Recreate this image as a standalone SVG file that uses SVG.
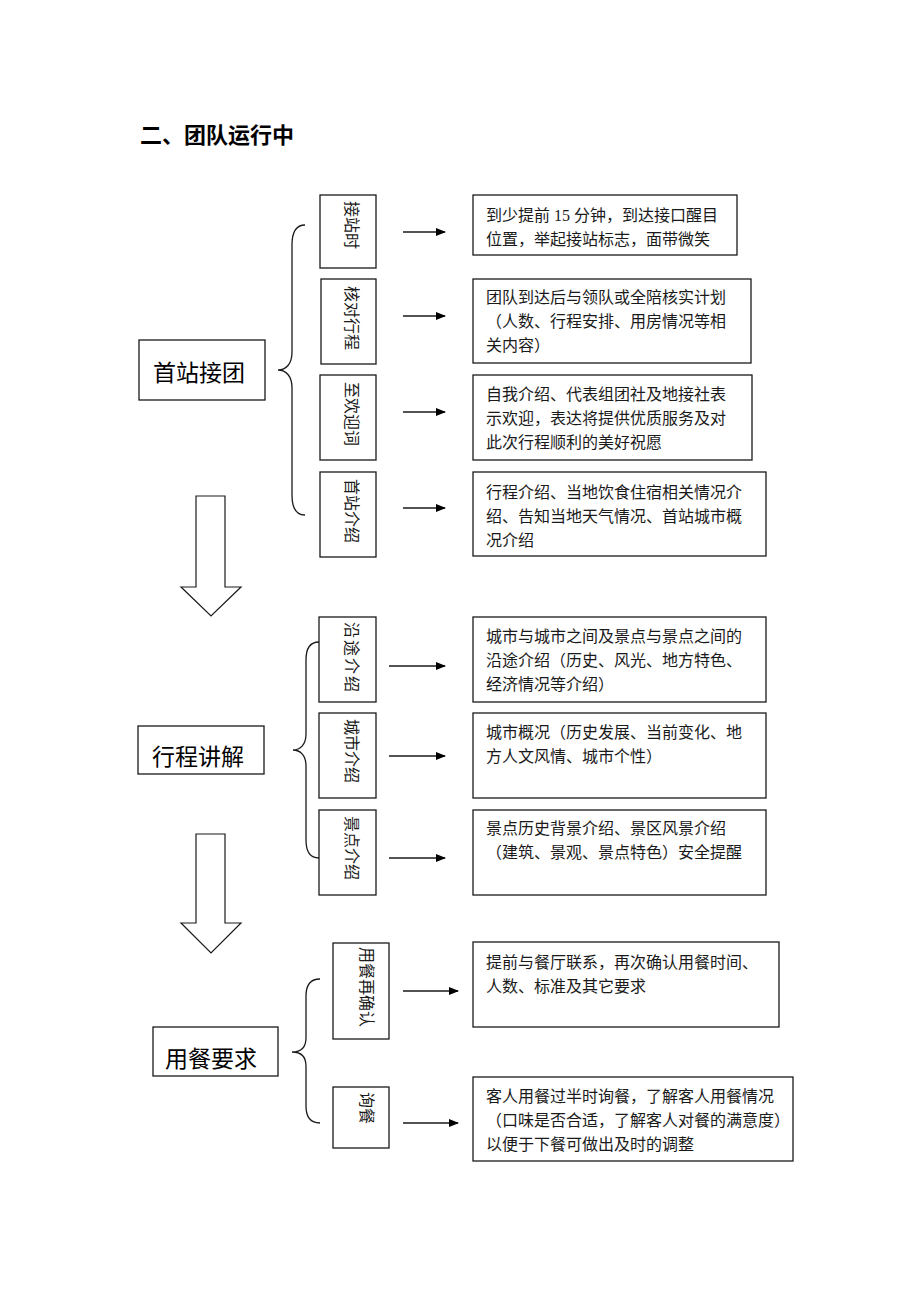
<svg xmlns="http://www.w3.org/2000/svg" width="920" height="1302" viewBox="0 0 920 1302">
<style>
.bx{fill:#fff;stroke:#1a1a1a;stroke-width:1.3}
.t{font-family:"Liberation Serif","Noto Sans CJK SC",serif;font-size:16px;fill:#1a1a1a}
.v{font-family:"Noto Sans CJK SC",sans-serif;font-size:16px;fill:#1a1a1a}
.h{font-family:"Noto Sans CJK SC",sans-serif;font-size:23px;fill:#000}
.ttl{font-family:"Noto Sans CJK SC",sans-serif;font-size:22px;font-weight:bold;fill:#000}
.ln{fill:none;stroke:#1a1a1a;stroke-width:1.3}
.br{fill:none;stroke:#1a1a1a;stroke-width:1.3}
.da{fill:#fff;stroke:#1a1a1a;stroke-width:1.2}
</style>
<defs>
<marker id="ah" markerWidth="10" markerHeight="8" refX="9" refY="4" orient="auto" markerUnits="userSpaceOnUse">
<path d="M0,0 L10,4 L0,8 Z" fill="#000"/>
</marker>
</defs>
<rect width="920" height="1302" fill="#fff"/>
<text class="ttl" x="140" y="143">二、团队运行中</text>

<g id="sec1">
<g id="n-shouzhan"><rect class="bx" x="139" y="340" width="126" height="60"/><text class="h" x="153" y="381">首站接团</text></g>
<g id="n-jiezhan"><rect class="bx" x="320" y="195" width="56" height="73"/><text class="v" transform="translate(346,201) rotate(90)">接站时</text></g>
<g id="n-hedui"><rect class="bx" x="321" y="279" width="55" height="85"/><text class="v" transform="translate(346,286) rotate(90)">核对行程</text></g>
<g id="n-zhihuan"><rect class="bx" x="320" y="375" width="56" height="85"/><text class="v" transform="translate(346,382) rotate(90)">至欢迎词</text></g>
<g id="n-szjs"><rect class="bx" x="320" y="472" width="56" height="85"/><text class="v" transform="translate(346,479) rotate(90)">首站介绍</text></g>
<g id="d-1"><rect class="bx" x="473" y="195" width="264" height="60"/><text class="t" x="486" y="221">到少提前 15 分钟，到达接口醒目</text><text class="t" x="486" y="245">位置，举起接站标志，面带微笑</text></g>
<g id="d-2"><rect class="bx" x="473" y="279" width="278" height="84"/><text class="t" x="486" y="303">团队到达后与领队或全陪核实计划</text><text class="t" x="486" y="327">（人数、行程安排、用房情况等相</text><text class="t" x="486" y="351">关内容）</text></g>
<g id="d-3"><rect class="bx" x="473" y="375" width="279" height="85"/><text class="t" x="486" y="400">自我介绍、代表组团社及地接社表</text><text class="t" x="486" y="424">示欢迎，表达将提供优质服务及对</text><text class="t" x="486" y="448">此次行程顺利的美好祝愿</text></g>
<g id="d-4"><rect class="bx" x="473" y="472" width="293" height="84"/><text class="t" x="486" y="498">行程介绍、当地饮食住宿相关情况介</text><text class="t" x="486" y="522">绍、告知当地天气情况、首站城市概</text><text class="t" x="486" y="546">况介绍</text></g>
</g>

<g id="sec2">
<g id="n-xingcheng"><rect class="bx" x="138" y="726" width="126" height="48"/><text class="h" x="152" y="765">行程讲解</text></g>
<g id="n-yantu"><rect class="bx" x="319" y="617" width="57" height="85"/><text class="v" transform="translate(346,622) rotate(90)" letter-spacing="2">沿途介绍</text></g>
<g id="n-chengshi"><rect class="bx" x="319" y="713" width="57" height="85"/><text class="v" transform="translate(346,719) rotate(90)">城市介绍</text></g>
<g id="n-jingdian"><rect class="bx" x="319" y="810" width="57" height="85"/><text class="v" transform="translate(346,816) rotate(90)">景点介绍</text></g>
<g id="d-5"><rect class="bx" x="473" y="617" width="293" height="85"/><text class="t" x="486" y="642">城市与城市之间及景点与景点之间的</text><text class="t" x="486" y="666">沿途介绍（历史、风光、地方特色、</text><text class="t" x="486" y="690">经济情况等介绍）</text></g>
<g id="d-6"><rect class="bx" x="473" y="713" width="293" height="85"/><text class="t" x="486" y="738">城市概况（历史发展、当前变化、地</text><text class="t" x="486" y="762">方人文风情、城市个性）</text></g>
<g id="d-7"><rect class="bx" x="473" y="810" width="293" height="85"/><text class="t" x="486" y="834">景点历史背景介绍、景区风景介绍</text><text class="t" x="486" y="858">（建筑、景观、景点特色）安全提醒</text></g>
</g>

<g id="sec3">
<g id="n-yongcan"><rect class="bx" x="153" y="1027" width="125" height="49"/><text class="h" x="165" y="1067">用餐要求</text></g>
<g id="n-queren"><rect class="bx" x="333" y="943" width="56" height="96"/><text class="v" transform="translate(361,947) rotate(90)">用餐再确认</text></g>
<g id="n-xuncan"><rect class="bx" x="333" y="1087" width="56" height="61"/><text class="v" transform="translate(361,1092) rotate(90)">询餐</text></g>
<g id="d-8"><rect class="bx" x="473" y="942" width="306" height="85"/><text class="t" x="486" y="968">提前与餐厅联系，再次确认用餐时间、</text><text class="t" x="486" y="992">人数、标准及其它要求</text></g>
<g id="d-9"><rect class="bx" x="473" y="1077" width="320" height="84"/><text class="t" x="486" y="1102">客人用餐过半时询餐，了解客人用餐情况</text><text class="t" x="486" y="1126">（口味是否合适，了解客人对餐的满意度）</text><text class="t" x="486" y="1150">以便于下餐可做出及时的调整</text></g>
</g>

<g id="connectors">
<path class="br" d="M305,225 C296,225 292,232 292,245 L292,352 C292,364 286,370 278,370 C286,370 292,376 292,388 L292,495 C292,508 296,515 305,515"/>
<path class="br" d="M319,642 C310,642 306,648 306,660 L306,734 C306,745 300,750 293,750 C300,750 306,755 306,766 L306,840 C306,852 310,858 319,858"/>
<path class="br" d="M320,979 C311,979 306,985 306,996 L306,1038 C306,1048 300,1052 292,1052 C300,1052 306,1056 306,1066 L306,1106 C306,1117 311,1123 320,1123"/>
<line class="ln" x1="403" y1="232" x2="445" y2="232" marker-end="url(#ah)"/>
<line class="ln" x1="403" y1="316" x2="445" y2="316" marker-end="url(#ah)"/>
<line class="ln" x1="403" y1="412" x2="445" y2="412" marker-end="url(#ah)"/>
<line class="ln" x1="403" y1="508" x2="445" y2="508" marker-end="url(#ah)"/>
<line class="ln" x1="389" y1="666" x2="445" y2="666" marker-end="url(#ah)"/>
<line class="ln" x1="389" y1="756" x2="445" y2="756" marker-end="url(#ah)"/>
<line class="ln" x1="389" y1="858" x2="445" y2="858" marker-end="url(#ah)"/>
<line class="ln" x1="403" y1="991" x2="458" y2="991" marker-end="url(#ah)"/>
<line class="ln" x1="403" y1="1123" x2="458" y2="1123" marker-end="url(#ah)"/>
<polygon class="da" points="196,496 225,496 225,587 241,587 211,616 181,587 196,587"/>
<polygon class="da" points="196,834 225,834 225,923 241,923 211,953 181,923 196,923"/>
</g>
</svg>
